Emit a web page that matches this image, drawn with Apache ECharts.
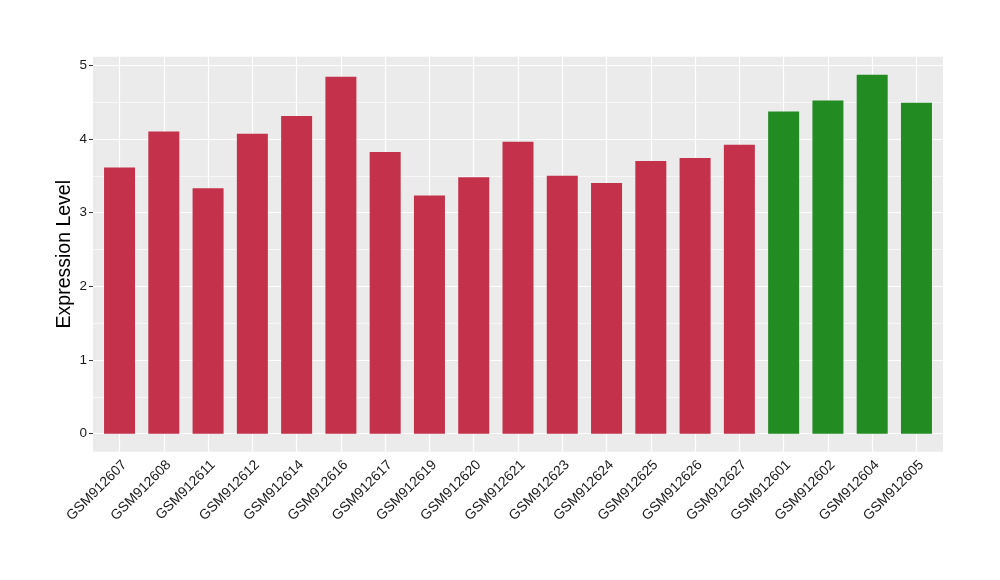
<!DOCTYPE html>
<html>
<head>
<meta charset="utf-8">
<script src="https://cdn.jsdelivr.net/npm/echarts@6/dist/echarts.min.js"></script>
<style>html,body{margin:0;padding:0;background:#fff;}#c{width:1000px;height:580px;}</style>
</head>
<body>
<div id="c"></div>
<script>
var categories = ["GSM912607","GSM912608","GSM912611","GSM912612","GSM912614","GSM912616","GSM912617","GSM912619","GSM912620","GSM912621","GSM912623","GSM912624","GSM912625","GSM912626","GSM912627","GSM912601","GSM912602","GSM912604","GSM912605"];
var values = [3.61, 4.10, 3.33, 4.07, 4.31, 4.84, 3.82, 3.23, 3.48, 3.96, 3.50, 3.40, 3.70, 3.74, 3.92, 4.37, 4.52, 4.87, 4.49];
var groups = ["a","a","a","a","a","a","a","a","a","a","a","a","a","a","a","b","b","b","b"];
var groupColors = {a: "#C3314A", b: "#228B22"};
var yTicks = [0, 1, 2, 3, 4, 5];

var maxV = Math.max.apply(null, values);
var pad = maxV * 0.05;

var chart = echarts.init(document.getElementById('c'), null, {renderer: 'canvas'});
var font = "'Liberation Sans', Arial, Helvetica, sans-serif";

chart.setOption({
  animation: false,
  backgroundColor: '#ffffff',
  grid: [
    {left: 93, width: 850, top: 56.7, height: 395, show: true, backgroundColor: '#EBEBEB', borderWidth: 0},
    {left: 93, width: 850, top: 65.3, height: 368.4},
    {left: 97.4, width: 841.2, top: 56.7, height: 395}
  ],
  xAxis: [
    {gridIndex: 0, type: 'value', show: false},
    {gridIndex: 1, type: 'value', show: false},
    {gridIndex: 2, type: 'category', data: categories,
      axisLine: {show: false},
      axisTick: {show: true, alignWithLabel: true, length: 4, lineStyle: {color: '#333333', width: 1}},
      axisLabel: {rotate: 45, margin: 6, fontSize: 14, color: '#1a1a1a', fontFamily: font, interval: 0,
        align: 'right', verticalAlign: 'top'},
      splitLine: {show: false}
    }
  ],
  yAxis: [
    {gridIndex: 0, type: 'value', show: false},
    {gridIndex: 1, type: 'value', min: yTicks[0], max: yTicks[yTicks.length - 1], interval: 1,
      axisLine: {show: false},
      axisTick: {show: true, length: 4, lineStyle: {color: '#333333', width: 1}},
      axisLabel: {margin: 6, fontSize: 13.5, color: '#1a1a1a', fontFamily: font},
      splitLine: {show: true, lineStyle: {color: '#ffffff', width: 1.2}},
      minorTick: {show: false, splitNumber: 2},
      minorSplitLine: {show: true, lineStyle: {color: '#ffffff', width: 0.6}}
    },
    {gridIndex: 2, type: 'value', min: -pad, max: maxV + pad,
      name: 'Expression Level', nameLocation: 'middle', nameGap: 22.5,
      nameTextStyle: {fontSize: 19.5, color: '#000000', fontFamily: font},
      axisLine: {show: false}, axisTick: {show: false}, axisLabel: {show: false}, splitLine: {show: false}
    }
  ],
  series: [
    {
      type: 'line', xAxisIndex: 2, yAxisIndex: 2, data: [], silent: true, z: 1,
      markLine: {
        silent: true, symbol: 'none', z: 1, animation: false,
        label: {show: false},
        lineStyle: {color: '#ffffff', width: 1.2, type: 'solid'},
        data: categories.map(function (c) { return {xAxis: c}; })
      }
    },
    {
      type: 'bar', xAxisIndex: 2, yAxisIndex: 2, barWidth: '70%', z: 3,
      data: values.map(function (v, i) {
        return {value: v, itemStyle: {color: groupColors[groups[i]]}};
      })
    }
  ]
});
</script>
</body>
</html>
